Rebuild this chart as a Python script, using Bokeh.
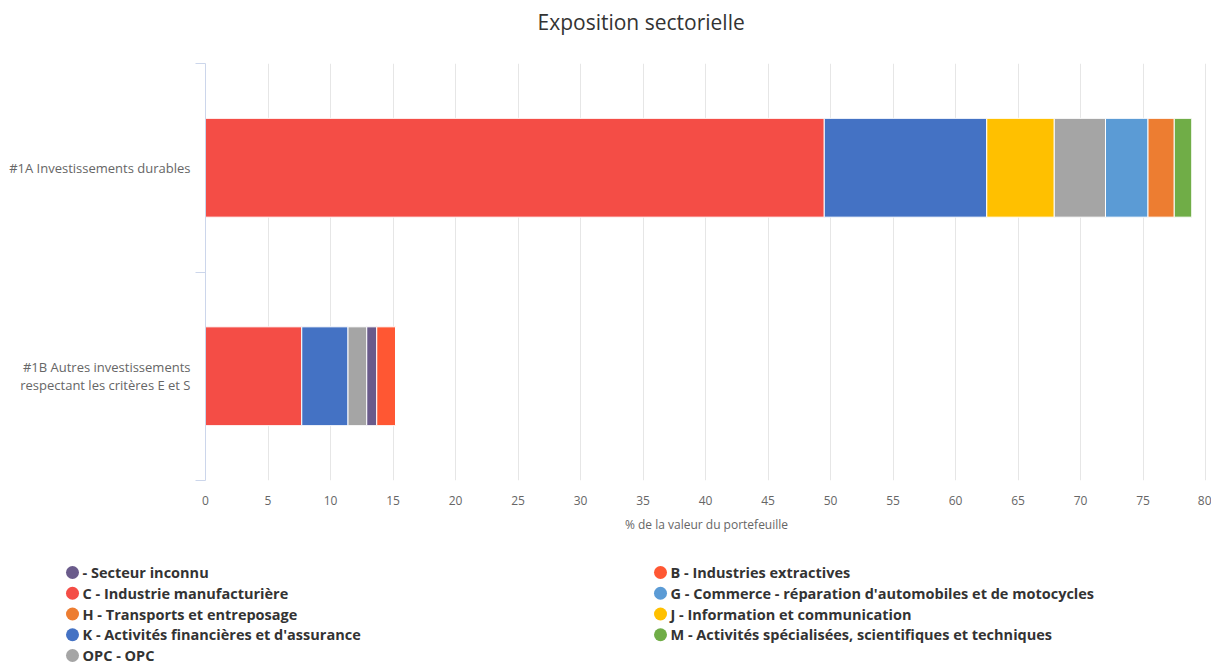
from bokeh.plotting import figure
from bokeh.models import (ColumnDataSource, Range1d, FixedTicker, Title)
from bokeh.core.properties import value
from bokeh.embed import file_html
from bokeh.resources import INLINE

# ---------------- data ----------------
categories = ["#1A Investissements durables",
              "#1B Autres investissements\nrespectant les critères E et S"]

sector_codes = ["-", "B", "C", "G", "H", "J", "K", "M", "OPC"]
sector_labels = [
    "- Secteur inconnu",
    "B - Industries extractives",
    "C - Industrie manufacturière",
    "G - Commerce - réparation d'automobiles et de motocycles",
    "H - Transports et entreposage",
    "J - Information et communication",
    "K - Activités financières et d'assurance",
    "M - Activités spécialisées, scientifiques et techniques",
    "OPC - OPC",
]
sector_colors = ["#6A5B8B", "#FF5733", "#F44D46", "#5B9BD5", "#ED7D31",
                 "#FFC000", "#4472C4", "#70AD47", "#A5A5A5"]

values_1A = [0.0, 0.0, 49.5, 3.4, 2.1, 5.4, 13.0, 1.4, 4.1]
values_1B = [0.8, 1.5, 7.7, 0.0, 0.0, 0.0, 3.7, 0.0, 1.5]

order_1A = ["C", "K", "J", "OPC", "G", "H", "M"]
order_1B = ["C", "K", "OPC", "-", "B"]

x_ticks = list(range(0, 85, 5))

FONT = "Open Sans"

# ---------------- build segments ----------------
ypos = {categories[0]: 1.5, categories[1]: 0.5}
seg = dict(y=[], left=[], right=[], color=[], sector=[])
for cat, vals, order in [(categories[0], values_1A, order_1A),
                         (categories[1], values_1B, order_1B)]:
    acc = 0.0
    for code in order:
        i = sector_codes.index(code)
        v = vals[i]
        seg["y"].append(ypos[cat])
        seg["left"].append(acc)
        seg["right"].append(acc + v)
        seg["color"].append(sector_colors[i])
        seg["sector"].append(sector_labels[i])
        acc += v
src = ColumnDataSource(seg)

# ---------------- main figure ----------------
p = figure(width=1211, height=541, output_backend="svg", toolbar_location=None,
           x_range=Range1d(0, 80.16), y_range=Range1d(0, 2),
           min_border_left=205, min_border_right=4,
           min_border_top=62, min_border_bottom=61)
p.outline_line_color = None
p.background_fill_color = "white"
p.border_fill_color = "white"

# spacer between the frame and the title
p.add_layout(Title(text=" ", text_font_size="1px", standoff=20,
                   text_color="white"), "above")
p.title = Title(text="Exposition sectorielle", align="left", offset=332,
                text_font=FONT, text_font_size="21px", text_font_style="normal",
                text_color="#333333", standoff=10)

p.hbar(y="y", left="left", right="right", height=0.474, source=src,
       fill_color="color", line_color="white", line_width=1)

# x axis
xa = p.xaxis[0]
xa.ticker = FixedTicker(ticks=x_ticks)
xa.axis_line_color = None
xa.major_tick_line_color = None
xa.minor_tick_line_color = None
xa.major_label_text_font = FONT
xa.major_label_text_font_size = "12px"
xa.major_label_text_color = "#666666"
xa.major_label_standoff = 9
xa.axis_label = "% de la valeur du portefeuille"
xa.axis_label_text_font = FONT
xa.axis_label_text_font_size = "12px"
xa.axis_label_text_font_style = "normal"
xa.axis_label_text_color = "#666666"
xa.axis_label_standoff = 8

# y axis
ya = p.yaxis[0]
ya.ticker = FixedTicker(ticks=[1.5, 0.5], minor_ticks=[0, 1, 2])
ya.major_label_overrides = {1.5: categories[0], 0.5: categories[1]}
ya.axis_line_color = "#ccd6eb"
ya.major_tick_line_color = None
ya.minor_tick_line_color = "#ccd6eb"
ya.minor_tick_out = 10
ya.minor_tick_in = 0
ya.major_label_text_font = FONT
ya.major_label_text_font_size = "13px"
ya.major_label_text_color = "#666666"
ya.major_label_text_line_height = 1.0
ya.major_label_standoff = 5

p.xgrid.grid_line_color = "#e6e6e6"
p.ygrid.grid_line_color = None

# ---------------- legend figure (separate root) ----------------
leg_w, leg_h = 1211, 126
lg = figure(width=leg_w, height=leg_h, output_backend="svg", toolbar_location=None,
            x_range=Range1d(0, leg_w), y_range=Range1d(leg_h, 0),
            min_border=0)
lg.axis.visible = False
lg.grid.visible = False
lg.outline_line_color = None

col_x = [72, 660]
row0, pitch = 31, 20.75
lx, ly, ltx, lcol, ltxt = [], [], [], [], []
for i, lab in enumerate(sector_labels):
    c, r = i % 2, i // 2
    lx.append(col_x[c])
    ly.append(row0 + r * pitch)
    ltx.append(col_x[c] + 10)
    lcol.append(sector_colors[i])
    ltxt.append(lab)
lsrc = ColumnDataSource(dict(x=lx, y=ly, tx=ltx, color=lcol, text=ltxt))
lg.scatter(x="x", y="y", size=13, fill_color="color", line_color=None, source=lsrc)
lg.text(x="tx", y="y", text="text", source=lsrc, text_font=value(FONT),
        text_font_size="14.5px", text_font_style="bold", text_color="#333333",
        text_baseline="middle", text_align="left")

open("out.html", "w").write(file_html([p, lg], INLINE))
